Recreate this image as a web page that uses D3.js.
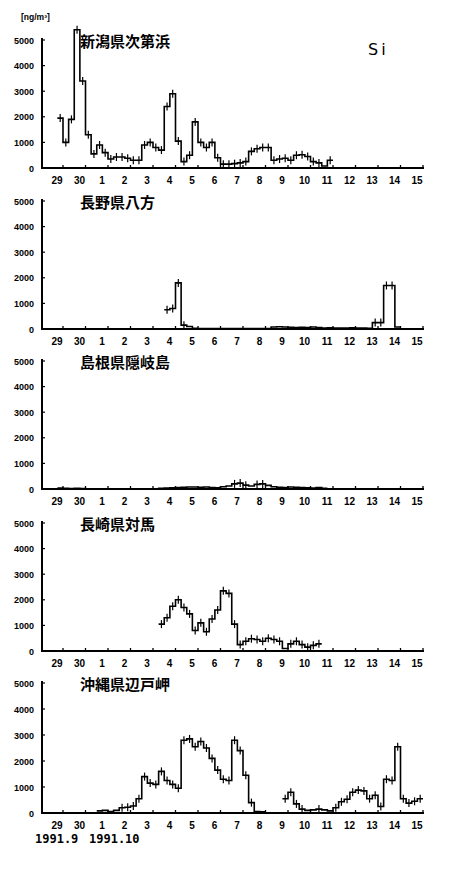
<!DOCTYPE html>
<html><head><meta charset="utf-8">
<script src="https://cdn.jsdelivr.net/npm/d3@7"></script>
<style>
html,body{margin:0;padding:0;background:#fff;}
svg{display:block;}
</style></head>
<body>
<script>
// ---------- DATA ----------
const dayLabels = ["29","30","1","2","3","4","5","6","7","8","9","10","11","12","13","14","15"];
const yTicks = [0, 1000, 2000, 3000, 4000, 5000];
const stationNames = ["新潟県次第浜","長野県八方","島根県隠岐島","長崎県対馬","沖縄県辺戸岬"];
const element = "Si";
const unitLabel = "[ng/m³]";
const monthLabels = ["1991.9", "1991.10"];
const binDays = 0.25; // 6-hour samples

// start = index of first 6-hour bin (0 = start of Sept 28)
const niigataStart = 3;
const niigata = [1950,1000,1900,5400,3400,1300,550,900,600,350,430,430,380,300,300,900,1000,800,700,2400,2900,1050,250,500,1800,1000,800,1000,400,150,150,170,200,250,650,750,800,800,300,350,380,300,500,520,450,250,200,80,300];

const naganoStart = 22;
const nagano = [750,800,1800,150,100,30,20,20,20,20,20,20,20,20,20,20,20,20,20,80,90,80,70,60,70,60,80,60,40,50,40,40,40,50,40,40,30,250,250,1700,1700,80];

const shimaneStart = 3;
const shimane = [40,30,20,30,20,10,0,0,0,0,0,0,0,0,0,0,0,0,30,40,50,60,70,80,80,70,80,60,50,90,120,200,230,150,120,180,200,140,90,70,60,80,70,60,50,40,60,30];

const tsushimaStart = 21;
const tsushima = [1050,1300,1750,2000,1700,1450,800,1100,750,1250,1600,2350,2250,1050,250,380,480,450,380,500,450,380,100,280,380,250,150,220,280];

const okinawaStart = 10;
const okinawa = [80,100,60,100,200,220,270,550,1400,1150,1100,1600,1250,1100,950,2800,2850,2550,2750,2500,2100,1650,1300,1250,2800,2400,1450,400,60,50,null,null,null,550,800,350,150,100,120,150,120,80,200,430,530,800,880,850,550,680,250,1300,1250,2550,550,380,450,550];

const panels = [
  {name: stationNames[0], start: niigataStart, values: niigata},
  {name: stationNames[1], start: naganoStart, values: nagano},
  {name: stationNames[2], start: shimaneStart, values: shimane},
  {name: stationNames[3], start: tsushimaStart, values: tsushima},
  {name: stationNames[4], start: okinawaStart, values: okinawa}
];

// ---------- LAYOUT ----------
const W = 464, H = 878;
const panelTop = [40, 201, 361, 523, 683];
const panelH = [128, 128, 128, 128, 130];
const axisX0 = 42, axisX1 = 424;

const svg = d3.select("body").append("svg").attr("width", W).attr("height", H);

const x = d3.scaleLinear().domain([0, 17]).range([40.5, 423]);

const tickFont = "'Liberation Sans', Arial, sans-serif";

panels.forEach((p, pi) => {
  const top = panelTop[pi], h = panelH[pi];
  const y = d3.scaleLinear().domain([0, 5000]).range([top + h, top]);
  const g = svg.append("g");

  // y axis
  g.append("line").attr("x1", axisX0).attr("x2", axisX0)
    .attr("y1", y(5000) - 2).attr("y2", y(0))
    .attr("stroke", "#000").attr("stroke-width", 2);
  yTicks.forEach(v => {
    g.append("line").attr("x1", axisX0).attr("x2", axisX0 + 3)
      .attr("y1", y(v)).attr("y2", y(v)).attr("stroke", "#000").attr("stroke-width", 1.2);
    g.append("text").attr("x", 34).attr("y", y(v) + 3.5)
      .attr("text-anchor", "end").attr("font-family", tickFont)
      .attr("font-weight", "bold").attr("font-size", 9).text(v);
  });

  // x axis
  g.append("line").attr("x1", axisX0 - 1).attr("x2", axisX1)
    .attr("y1", y(0)).attr("y2", y(0)).attr("stroke", "#000").attr("stroke-width", 2);
  dayLabels.forEach((lab, i) => {
    const tx = x(i + 1);
    g.append("line").attr("x1", tx).attr("x2", tx).attr("y1", y(0)).attr("y2", y(0) - 3)
      .attr("stroke", "#000").attr("stroke-width", 1.3);
    g.append("text").attr("x", tx - 6).attr("y", y(0) + 16)
      .attr("text-anchor", "middle").attr("font-family", tickFont)
      .attr("font-weight", "bold").attr("font-size", 10).text(lab);
  });

  // title
  g.append("text").attr("x", 80).attr("y", top + 7)
    .attr("font-family", "'Noto Sans CJK JP', sans-serif").attr("font-weight", "bold")
    .attr("font-size", 15).text(p.name);

  // step series split on nulls
  const runs = [];
  let cur = null;
  p.values.forEach((v, i) => {
    const t = (p.start + i) * binDays;
    if (v == null) { cur = null; return; }
    if (!cur) { cur = []; runs.push(cur); }
    cur.push({t, v});
  });
  const line = d3.line().x(d => x(d.t)).y(d => y(d.v)).curve(d3.curveStepAfter);
  runs.forEach(run => {
    const last = run[run.length - 1];
    const pts = run.concat([{t: last.t + binDays, v: last.v}]);
    g.append("path").attr("d", line(pts)).attr("fill", "none")
      .attr("stroke", "#000").attr("stroke-width", 1.6);
    // error-bar crosses at bin centres (hidden when the step lies on the axis)
    run.filter(d => d.v >= 150).forEach(d => {
      const cx = x(d.t + binDays / 2);
      g.append("line").attr("x1", cx).attr("x2", cx)
        .attr("y1", y(d.v) - 4).attr("y2", Math.min(y(d.v) + 4, y(0)))
        .attr("stroke", "#000").attr("stroke-width", 1.2);
    });
  });
});

// unit label and element
svg.append("text").attr("x", 21).attr("y", 20).attr("font-family", tickFont)
  .attr("font-weight", "bold").attr("font-size", 8.5).text(unitLabel);
svg.append("text").attr("x", 368).attr("y", 55).attr("font-family", "'DejaVu Sans', sans-serif")
  .attr("font-size", 16).attr("letter-spacing", 3).text(element);

// bottom month labels
svg.append("text").attr("x", 35).attr("y", 843).attr("font-family", "'DejaVu Sans Mono', monospace")
  .attr("font-size", 12).attr("font-weight", "bold").text(monthLabels[0]);
svg.append("text").attr("x", 89).attr("y", 843).attr("font-family", "'DejaVu Sans Mono', monospace")
  .attr("font-size", 12).attr("font-weight", "bold").text(monthLabels[1]);
</script>
</body></html>
